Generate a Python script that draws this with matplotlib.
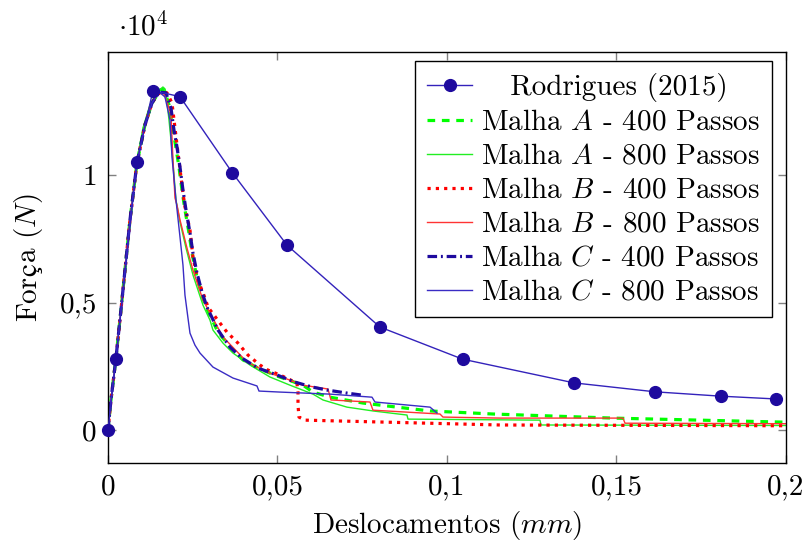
import matplotlib
matplotlib.use('Agg')
from matplotlib import pyplot as plt
from matplotlib.transforms import IdentityTransform

plt.rcParams['font.family'] = ['cmr10', 'DejaVu Serif']
plt.rcParams['mathtext.fontset'] = 'cm'
plt.rcParams['axes.unicode_minus'] = False
plt.rcParams['font.size'] = 21

# Rodrigues (2015) reference points  (x in mm, force in 1e4 N)
rod_x = [0, 0.00236, 0.00855, 0.01327, 0.02124, 0.03667, 0.0528, 0.0802, 0.1046, 0.1375, 0.1614, 0.1807, 0.197]
rod_y = [0, 0.280, 1.052, 1.331, 1.307, 1.009, 0.725, 0.404, 0.278, 0.185, 0.150, 0.133, 0.122]

# common elastic branch of the simulations
rise_x = [0, 0.00088, 0.00236, 0.00413, 0.00649, 0.00855, 0.01091, 0.01298, 0.01475]
rise_y = [0, 0.118, 0.282, 0.510, 0.824, 1.047, 1.196, 1.282, 1.318]

# Malha A - 400 passos
a400_x = rise_x + [0.01534, 0.01652, 0.01799, 0.01917, 0.02006, 0.02094, 0.02183, 0.02271, 0.02389,
                   0.02478, 0.02596, 0.02743, 0.02891, 0.03245, 0.03687, 0.03982, 0.04425, 0.04985,
                   0.05752, 0.06047, 0.06549, 0.07522, 0.08525, 0.09499, 0.11357, 0.14897, 0.2]
a400_y = rise_y + [1.333, 1.337, 1.275, 1.176, 1.106, 1.031, 0.941, 0.863, 0.773,
                   0.694, 0.616, 0.541, 0.482, 0.384, 0.314, 0.275, 0.243, 0.212,
                   0.176, 0.149, 0.129, 0.106, 0.090, 0.075, 0.063, 0.047, 0.031]

# Malha A - 800 passos
a800_x = [0, 0.00236, 0.00413, 0.00649, 0.00855, 0.01032, 0.01239, 0.01445, 0.01622, 0.01711, 0.01799,
          0.01888, 0.02006, 0.02124, 0.02301, 0.02507, 0.02802, 0.03009, 0.03097, 0.03392, 0.03687,
          0.04189, 0.04779, 0.05369, 0.06047, 0.06342, 0.0705, 0.07817, 0.0882, 0.0885, 0.12743,
          0.12773, 0.2]
a800_y = [0, 0.282, 0.510, 0.824, 1.059, 1.184, 1.275, 1.325, 1.345, 1.325, 1.216,
          1.098, 0.902, 0.816, 0.714, 0.608, 0.490, 0.431, 0.392, 0.341, 0.302,
          0.255, 0.208, 0.176, 0.141, 0.118, 0.090, 0.075, 0.059, 0.043, 0.039,
          0.020, 0.018]

# Malha B - 400 passos
b400_x = rise_x + [0.01563, 0.0174, 0.01888, 0.02065, 0.02212, 0.02271, 0.02419, 0.02507, 0.02655,
                   0.02861, 0.0295, 0.03215, 0.0351, 0.03835, 0.0413, 0.04484, 0.0472, 0.05074,
                   0.05575, 0.05605, 0.05605, 0.05634, 0.05811, 0.11563, 0.2]
b400_y = rise_y + [1.322, 1.322, 1.282, 1.086, 0.929, 0.875, 0.784, 0.678, 0.588,
                   0.518, 0.482, 0.435, 0.384, 0.341, 0.294, 0.255, 0.235, 0.216,
                   0.184, 0.149, 0.098, 0.051, 0.039, 0.020, 0.017]

# Malha B - 800 passos
b800_x = rise_x + [0.01534, 0.01652, 0.0177, 0.01858, 0.01917, 0.01976, 0.02035, 0.02124, 0.0233,
                   0.02507, 0.02802, 0.03392, 0.041, 0.0469, 0.05369, 0.05752, 0.0649, 0.06578,
                   0.07729, 0.07817, 0.09794, 0.09882, 0.11563, 0.15192, 0.15251, 0.2]
b800_y = rise_y + [1.322, 1.318, 1.275, 1.235, 1.059, 0.910, 0.882, 0.824, 0.714,
                   0.627, 0.510, 0.365, 0.267, 0.227, 0.196, 0.176, 0.161, 0.118,
                   0.110, 0.078, 0.063, 0.051, 0.047, 0.047, 0.027, 0.025]

# Malha C - 400 passos
c400_x = rise_x + [0.01534, 0.01711, 0.01858, 0.01947, 0.02035, 0.02124, 0.02212, 0.02301, 0.02419,
                   0.02507, 0.02625, 0.02773, 0.0292, 0.03245, 0.03599, 0.03953, 0.04425, 0.04985,
                   0.05516, 0.06018, 0.0646, 0.0705, 0.07493]
c400_y = rise_y + [1.325, 1.322, 1.263, 1.176, 1.110, 1.031, 0.941, 0.863, 0.773,
                   0.694, 0.616, 0.541, 0.482, 0.392, 0.325, 0.282, 0.243, 0.216,
                   0.188, 0.169, 0.157, 0.145, 0.137]

# Malha C - 800 passos
c800_x = rise_x + [0.01534, 0.01681, 0.01829, 0.01888, 0.02006, 0.02124, 0.02212, 0.02271, 0.0236,
                   0.02419, 0.02566, 0.02714, 0.03097, 0.03687, 0.04395, 0.04454, 0.05074, 0.06549,
                   0.07788, 0.07876, 0.09499, 0.09705]
c800_y = rise_y + [1.322, 1.306, 1.216, 1.071, 0.902, 0.757, 0.647, 0.529, 0.439,
                   0.380, 0.333, 0.302, 0.247, 0.204, 0.173, 0.153, 0.149, 0.141,
                   0.129, 0.110, 0.090, 0.067]

xticks = [0, 0.05, 0.1, 0.15, 0.2]
xtick_labels = ['0', '0,05', '0,1', '0,15', '0,2']
yticks = [0, 0.5, 1]
ytick_labels = ['0', '0,5', '1']

blue = '#1e0a9e'

fig = plt.figure(figsize=(8.04, 5.44), dpi=100)
ax = fig.add_axes([0.1343, 0.1489, 0.8433, 0.7555])

ax.plot(rod_x, rod_y, color='#3322bb', lw=1.0, marker='o', ms=8.5,
        mfc=blue, mec=blue, label='   Rodrigues (2015)', clip_on=False, zorder=3)
ax.plot(a400_x, a400_y, color='#00ff00', lw=2.3, dashes=(2.4, 2.1), label='Malha $A$ - 400 Passos')
ax.plot(a800_x, a800_y, color='#22ee22', lw=1.0, label='Malha $A$ - 800 Passos')
ax.plot(b400_x, b400_y, color='#ff0000', lw=2.3, dashes=(1.0, 1.6), label='Malha $B$ - 400 Passos')
ax.plot(b800_x, b800_y, color='#ff3333', lw=1.0, label='Malha $B$ - 800 Passos')
ax.plot(c400_x, c400_y, color=blue, lw=2.3, dashes=(3.0, 1.2, 0.6, 1.2), label='Malha $C$ - 400 Passos')
ax.plot(c800_x, c800_y, color='#3a2cc4', lw=1.0, label='Malha $C$ - 800 Passos')

ax.set_xlim(0, 0.2)
ax.set_ylim(-0.129, 1.482)
ax.set_xticks(xticks)
ax.set_xticklabels(xtick_labels)
ax.set_yticks(yticks)
ax.set_yticklabels(ytick_labels)
ax.tick_params(direction='in', top=True, right=True, color='gray', length=6, width=1, pad=8)
for s in ax.spines.values():
    s.set_linewidth(1.0)

ax.set_xlabel('Deslocamentos ($mm$)', labelpad=6)
ax.text(0.015, 1.025, r'$\cdot 10^4$', transform=ax.transAxes, ha='left', va='bottom')

leg = ax.legend(loc='upper right', bbox_to_anchor=(0.979, 0.978), borderaxespad=0,
                fancybox=False, framealpha=1, edgecolor='black', numpoints=1,
                handlelength=1.55, handletextpad=0.3, labelspacing=0.26, borderpad=0.4)
leg.get_frame().set_linewidth(1.0)

# y label "Força (N)": cmr10 has no proper ç, so that glyph comes from STIX
renderer = fig.canvas.get_renderer()
pieces = [('For', None), ('ç', 'STIXGeneral'), ('a ($N$)', None)]
widths = []
for s, fam in pieces:
    t = fig.text(0, 0, s, fontsize=21, family=fam) if fam else fig.text(0, 0, s, fontsize=21)
    widths.append(t.get_window_extent(renderer=renderer).width)
    t.remove()
total = sum(widths)
ycenter = 544 - (52 + 463) / 2
y0 = ycenter - total / 2
for (s, fam), w in zip(pieces, widths):
    kw = dict(fontsize=21, rotation=90, rotation_mode='anchor', ha='left', va='baseline',
              transform=IdentityTransform())
    if fam:
        kw['family'] = fam
    fig.text(36, y0, s, **kw)
    y0 += w

fig.savefig('out.png', dpi=100)
